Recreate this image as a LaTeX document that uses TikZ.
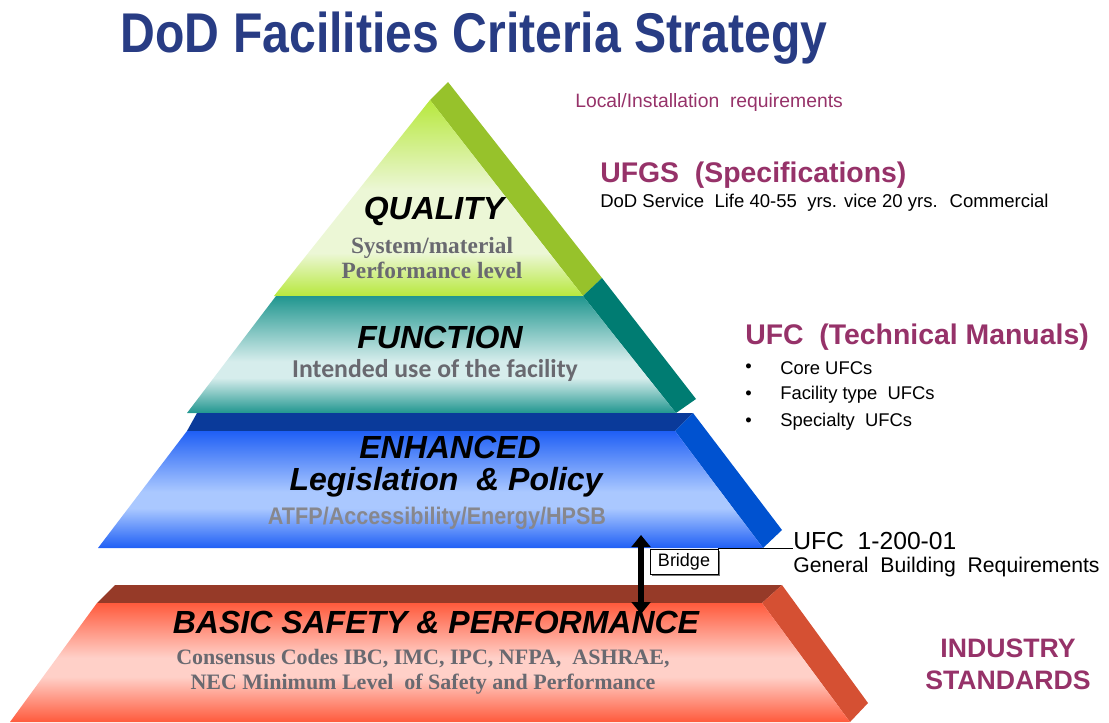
\documentclass[tikz,border=0pt]{standalone}
\usepackage{fontspec}
\setmainfont{Liberation Sans}
\newfontfamily\timesfont{Liberation Serif}
\newfontfamily\calibfont{Carlito}
\newfontfamily\narrowfont[FakeStretch=0.9]{Liberation Sans}
\newfontfamily\titlefont[FakeStretch=0.86]{Liberation Sans}
\usetikzlibrary{arrows.meta,shadows}

\definecolor{titleblue}{RGB}{40,60,132}
\definecolor{plum}{RGB}{150,50,105}
\definecolor{subgray}{RGB}{105,105,112}
\definecolor{qualgreen}{RGB}{183,232,61}
\definecolor{qualpale}{RGB}{236,247,214}
\definecolor{qualside}{RGB}{151,194,43}
\definecolor{functeal}{RGB}{32,150,143}
\definecolor{funcpale}{RGB}{214,237,236}
\definecolor{funcside}{RGB}{0,124,114}
\definecolor{enhtop}{RGB}{10,58,154}
\definecolor{enhblue}{RGB}{31,95,245}
\definecolor{enhpale}{RGB}{170,200,255}
\definecolor{enhside}{RGB}{0,82,208}
\definecolor{bastop}{RGB}{150,58,40}
\definecolor{basred}{RGB}{255,90,60}
\definecolor{baspale}{RGB}{255,208,200}
\definecolor{basside}{RGB}{213,80,51}

\pgfdeclareverticalshading{qualshade}{100bp}{color(0bp)=(qualgreen); color(25bp)=(qualgreen); color(36bp)=(qualpale); color(52bp)=(qualpale); color(75bp)=(qualgreen); color(100bp)=(qualgreen)}
\pgfdeclareverticalshading{funcshade}{100bp}{color(0bp)=(functeal); color(25bp)=(functeal); color(40bp)=(funcpale); color(47bp)=(funcpale); color(75bp)=(functeal); color(100bp)=(functeal)}
\pgfdeclareverticalshading{enhshade}{100bp}{color(0bp)=(enhblue); color(25bp)=(enhblue); color(42bp)=(enhpale); color(49bp)=(enhpale); color(75bp)=(enhblue); color(100bp)=(enhblue)}
\pgfdeclareverticalshading{basshade}{100bp}{color(0bp)=(basred); color(25bp)=(basred); color(44bp)=(baspale); color(52bp)=(baspale); color(75bp)=(basred); color(100bp)=(basred)}

\begin{document}
\begin{tikzpicture}[
        x=0.75pt, y=-0.75pt,
        layer title/.style={font=\bfseries\itshape\fontsize{24}{28}\selectfont, text=black},
        sub text/.style={text=subgray, align=center},
        plum head/.style={font=\bfseries\fontsize{21.3}{25}\selectfont, text=plum, anchor=west, inner sep=0pt},
        side note/.style={font=\fontsize{13.9}{16}\selectfont, anchor=west, inner sep=0pt},
        bullet item/.style={font=\fontsize{13.8}{16}\selectfont, anchor=west, inner sep=0pt}
                                ]
    \useasboundingbox (0,0) rectangle (1109,722);

    % pyramid layers
    \fill[qualside] (430,100) -- (448,82) -- (602,278) -- (583,296) -- cycle;
    \shade[shading=qualshade] (430,100) -- (583,296) -- (274,296) -- cycle;

    \fill[funcside] (583,296) -- (602,278) -- (696,399) -- (676,413) -- cycle;
    \shade[shading=funcshade] (276,296) -- (583,296) -- (676,413) -- (187,413) -- cycle;

    \fill[enhtop] (197,413) -- (693,413) -- (675,431) -- (187,431) -- cycle;
    \fill[enhside] (675,431) -- (693,413) -- (782,530) -- (763,548) -- cycle;
    \shade[shading=enhshade] (187,431) -- (675,431) -- (763,548) -- (98,548) -- cycle;

    \fill[bastop] (115,585) -- (782,585) -- (762,603) -- (97,603) -- cycle;
    \fill[basside] (762,603) -- (782,585) -- (868,703) -- (850,722) -- cycle;
    \shade[shading=basshade] (97,603) -- (762,603) -- (850,722) -- (10,722) -- cycle;

    % title
    \node[font=\titlefont\bfseries\fontsize{42}{48}\selectfont, text=titleblue] (title) at (474,38) {DoD Facilities  Criteria Strategy};

    % texts on the layers
    \node[layer title] (quality) at (434,211) {QUALITY};
    \node[sub text, font=\timesfont\bfseries\fontsize{17.5}{18.75}\selectfont] (qualsub) at (432,258) {System/material\\Performance level};

    \node[layer title] (function) at (440,337) {FUNCTION};
    \node[sub text, font=\calibfont\bfseries\fontsize{19.3}{22}\selectfont] (funcsub) at (435,370) {Intended use of the facility};

    \node[layer title] (enhanced) at (450,447) {ENHANCED};
    \node[layer title] (legis) at (446,482) {Legislation \ \& Policy};
    \node[sub text, text=subgray!80, font=\narrowfont\bfseries\fontsize{18}{20}\selectfont] (enhsub) at (437,518) {ATFP/Accessibility/Energy/HPSB};

    \node[layer title] (basic) at (436,622) {BASIC SAFETY \& PERFORMANCE};
    \node[sub text, font=\timesfont\bfseries\fontsize{16.5}{18.75}\selectfont] (bassub) at (423,672) {Consensus Codes IBC, IMC, IPC, NFPA, \ ASHRAE,\\NEC Minimum Level \ of Safety and Performance};

    % notes on the right
    \node[side note, text=plum, font=\fontsize{14.5}{16}\selectfont] (local) at (575,102) {Local/Installation \ requirements};
    \node[plum head] (ufgs) at (600,175) {UFGS \ (Specifications)};
    \node[side note] (life) at (600,203) {DoD Service \ Life 40-55 \ yrs. vice 20 yrs. \ Commercial};

    \node[plum head] (ufc) at (745,337) {UFC \ (Technical Manuals)};
    \foreach \item/\yy in {Core UFCs/368, Facility type \ UFCs/395, Specialty \ UFCs/422} {
        \node[bullet item] at (745,\yy) {\textbullet};
        \node[bullet item] at (780,\yy) {\item};
    }

    \node[side note, font=\fontsize{18.5}{22}\selectfont] (ufcnum) at (793,541) {UFC \ 1-200-01};
    \node[side note, font=\fontsize{15.9}{18}\selectfont] (general) at (793,567) {General \ Building \ Requirements};

    \node[plum head, anchor=center, align=center, font=\bfseries\fontsize{20}{24}\selectfont] (industry) at (1008,664) {INDUSTRY\\STANDARDS};

    % bridge between the enhanced and the basic layer
    \node[draw, fill=white, line width=0.6pt, drop shadow={shadow xshift=1.2pt, shadow yshift=-1.2pt, fill=black!55, opacity=1},
          minimum width=51pt, minimum height=19pt, inner sep=1pt, font=\fontsize{13.5}{15}\selectfont] (bridge) at (684,562) {Bridge};
    \draw[line width=0.8pt] (bridge.north east) -- (ufcnum.west |- bridge.north east);

    \coordinate (archtop) at (641,535);
    \coordinate (archbot) at (641,614);
    \draw[line width=3.8pt, {Triangle[width=14pt,length=9pt]}-{Triangle[width=14pt,length=9pt]}] (archtop) -- (archbot);
\end{tikzpicture}
\end{document}
